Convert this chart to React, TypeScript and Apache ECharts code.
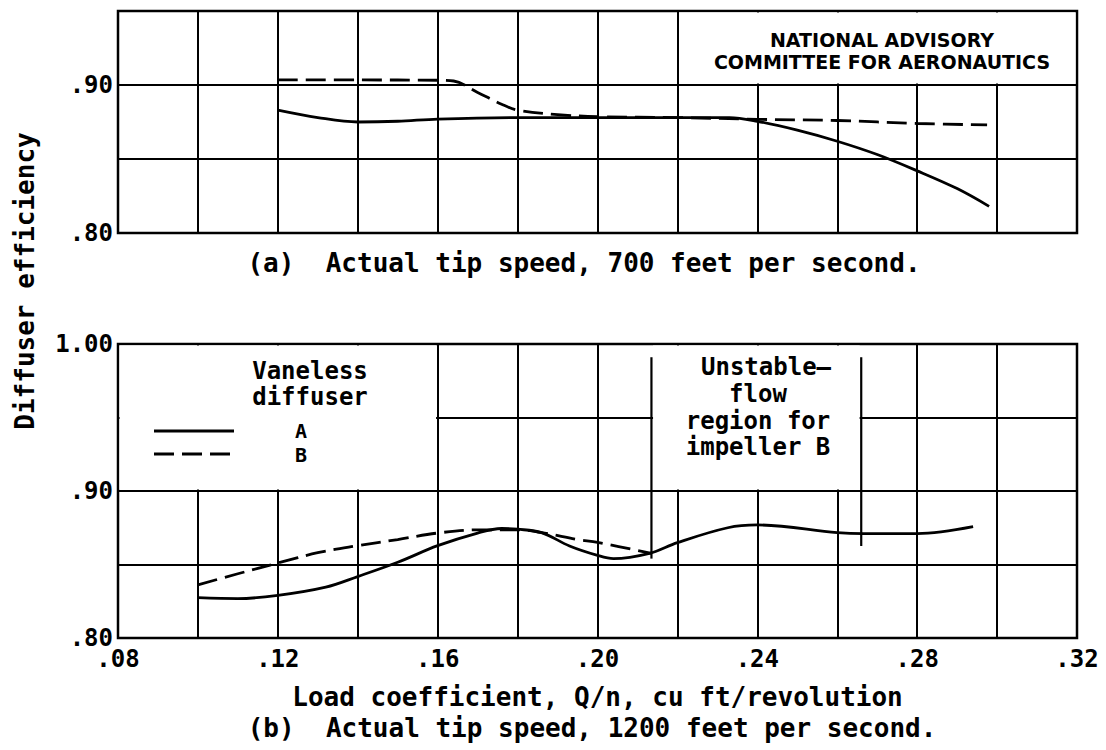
import React, { useEffect, useRef } from 'react';
import * as echarts from 'echarts';

// ---- tick labels ----
const X_TICK_LABELS = ['.08', '.12', '.16', '.20', '.24', '.28', '.32'];
const TOP_Y_TICK_LABELS = ['.80', '.90'];
const BOTTOM_Y_TICK_LABELS = ['.80', '.90', '1.00'];

// ---- (a) 700 ft/s ----
const TOP_A_X = [0.12, 0.13, 0.14, 0.15, 0.16, 0.18, 0.20, 0.22, 0.233, 0.24, 0.25, 0.26, 0.27, 0.28, 0.29, 0.298];
const TOP_A_Y = [0.883, 0.878, 0.875, 0.8755, 0.877, 0.878, 0.878, 0.878, 0.878, 0.8755, 0.8695, 0.862, 0.853, 0.842, 0.830, 0.818];
const TOP_B_X = [0.12, 0.14, 0.16, 0.164, 0.17, 0.176, 0.18, 0.19, 0.20, 0.22, 0.24, 0.26, 0.28, 0.2975];
const TOP_B_Y = [0.9034, 0.9034, 0.9032, 0.9027, 0.895, 0.887, 0.883, 0.880, 0.8786, 0.878, 0.8768, 0.876, 0.874, 0.873];

// ---- (b) 1200 ft/s ----
const BOT_A_X = [0.10, 0.11, 0.12, 0.132, 0.14, 0.15, 0.16, 0.17, 0.176, 0.18, 0.186, 0.193, 0.20, 0.204, 0.213, 0.22, 0.2326, 0.24, 0.26, 0.2665, 0.28, 0.294];
const BOT_A_Y = [0.8274, 0.8268, 0.829, 0.8346, 0.8418, 0.8515, 0.8628, 0.8714, 0.8745, 0.874, 0.8717, 0.8626, 0.8562, 0.854, 0.8576, 0.8649, 0.875, 0.8769, 0.8717, 0.871, 0.871, 0.8757];
const BOT_B_X = [0.10, 0.11, 0.12, 0.13, 0.14, 0.15, 0.16, 0.17, 0.18, 0.186, 0.195, 0.20, 0.2135];
const BOT_B_Y = [0.8362, 0.8437, 0.851, 0.858, 0.8628, 0.867, 0.8714, 0.8736, 0.8736, 0.8717, 0.867, 0.865, 0.8576];

// ---- unstable-flow region boundaries (impeller B) ----
const UNSTABLE_LEFT_X = [0.2135, 0.2135];
const UNSTABLE_LEFT_Y = [0.991, 0.854];
const UNSTABLE_RIGHT_X = [0.266, 0.266];
const UNSTABLE_RIGHT_Y = [0.991, 0.8626];

// ---- annotation boxes (data extents: x0, x1, y0, y1) ----
const NACA_BOX = [0.22, 0.32, 0.90, 0.95];
const LEGEND_BOX = [0.08, 0.16, 0.90, 1.00];
const UNSTABLE_BOX = [0.2135, 0.266, 0.90, 1.00];

// ---- legend entries ----
const LEGEND_NAMES = ['A', 'B'];

const FONT = "'DejaVu Sans Mono', monospace";
const FONT_CAPS = "'DejaVu Sans', sans-serif";
const DASH = [20, 8];

const zip = (xs: number[], ys: number[]) => xs.map((x, i) => [x, ys[i]]);
const fmtVal = (v: number) => {
  const k = Math.round(v * 100);
  return k >= 100 ? (k / 100).toFixed(2) : '.' + String(k).padStart(2, '0');
};
const pick = (list: string[]) => (v: number) => (list.includes(fmtVal(v)) ? fmtVal(v) : '');

export default function App() {
  const ref = useRef<HTMLDivElement>(null);
  useEffect(() => {
    if (!ref.current) return;
    const chart = echarts.init(ref.current, undefined, { renderer: 'svg' });

    const splitLine = { show: true, lineStyle: { color: '#000', width: 2 } };
    const gridCommon = { show: true, borderColor: '#000', borderWidth: 2.5, backgroundColor: 'transparent', left: 118, right: 29 };
    const xCommon = {
      type: 'value' as const, min: 0.08, max: 0.32, interval: 0.02,
      axisLine: { show: false }, axisTick: { show: false }, splitLine,
    };
    const yCommon = {
      type: 'value' as const, min: 0.8, interval: 0.05,
      axisLine: { show: false }, axisTick: { show: false }, splitLine,
    };
    const lineSeries = (name: string, xi: number, data: number[][], dashed: boolean) => ({
      name, type: 'line' as const, xAxisIndex: xi, yAxisIndex: xi, data,
      showSymbol: false, symbol: 'none', smooth: 0.35, z: 10,
      lineStyle: { color: '#000', width: 2.8, type: dashed ? DASH : 'solid' },
      itemStyle: { color: '#000' },
    });
    const boundary = (xi: number, data: number[][]) => ({
      name: 'boundary', type: 'line' as const, xAxisIndex: xi, yAxisIndex: xi, data,
      showSymbol: false, symbol: 'none', z: 10,
      lineStyle: { color: '#000', width: 2.2 },
    });

    chart.setOption({
      animation: false,
      backgroundColor: '#fff',
      textStyle: { fontFamily: FONT },
      grid: [
        { ...gridCommon, top: 11, height: 222 },
        { ...gridCommon, top: 344, height: 294 },
      ],
      xAxis: [
        { ...xCommon, gridIndex: 0, axisLabel: { show: false } },
        {
          ...xCommon, gridIndex: 1,
          axisLabel: { formatter: pick(X_TICK_LABELS), fontFamily: FONT, fontWeight: 'bold', fontSize: 24, color: '#000', margin: 9 },
          name: 'Load coefficient, Q/n, cu ft/revolution', nameLocation: 'middle', nameGap: 46,
          nameTextStyle: { fontFamily: FONT, fontWeight: 'bold', fontSize: 26, color: '#000' },
        },
      ],
      yAxis: [
        { ...yCommon, gridIndex: 0, max: 0.95, axisLabel: { formatter: pick(TOP_Y_TICK_LABELS), fontFamily: FONT, fontWeight: 'bold', fontSize: 24, color: '#000', margin: 5 } },
        { ...yCommon, gridIndex: 1, max: 1.0, axisLabel: { formatter: pick(BOTTOM_Y_TICK_LABELS), fontFamily: FONT, fontWeight: 'bold', fontSize: 24, color: '#000', margin: 5 } },
      ],
      series: [
        lineSeries(LEGEND_NAMES[0], 0, zip(TOP_A_X, TOP_A_Y), false),
        lineSeries(LEGEND_NAMES[1], 0, zip(TOP_B_X, TOP_B_Y), true),
        lineSeries(LEGEND_NAMES[0], 1, zip(BOT_A_X, BOT_A_Y), false),
        lineSeries(LEGEND_NAMES[1], 1, zip(BOT_B_X, BOT_B_Y), true),
        boundary(1, zip(UNSTABLE_LEFT_X, UNSTABLE_LEFT_Y)),
        boundary(1, zip(UNSTABLE_RIGHT_X, UNSTABLE_RIGHT_Y)),
      ],
    });

    const inset = 1.6;
    const cover = (gridIndex: number, box: number[]) => {
      const p0 = chart.convertToPixel({ gridIndex } as any, [box[0], box[3]]) as number[];
      const p1 = chart.convertToPixel({ gridIndex } as any, [box[1], box[2]]) as number[];
      return {
        type: 'rect', z: 5, silent: true,
        shape: { x: p0[0] + inset, y: p0[1] + inset, width: p1[0] - p0[0] - 2 * inset, height: p1[1] - p0[1] - 2 * inset },
        style: { fill: '#fff' },
      };
    };
    const txt = (text: string, x: number, y: number, size: number, extra: any = {}, family: string = FONT) => ({
      type: 'text', x, y, z: 20, silent: true, ...extra,
      style: { text, fill: '#000', font: `bold ${size}px ${family}`, align: 'center', verticalAlign: 'middle' },
    });
    const sample = (x1: number, x2: number, y: number, dashed: boolean) => ({
      type: 'line', z: 20, silent: true,
      shape: { x1, y1: y, x2, y2: y },
      style: { stroke: '#000', lineWidth: 2.8, lineDash: dashed ? DASH : null },
    });

    chart.setOption({
      graphic: [
        cover(0, NACA_BOX),
        cover(1, LEGEND_BOX),
        cover(1, UNSTABLE_BOX),
        txt('NATIONAL ADVISORY', 882, 40, 19, {}, FONT_CAPS),
        txt('COMMITTEE FOR AERONAUTICS', 882, 62, 19, {}, FONT_CAPS),
        txt('(a)  Actual tip speed, 700 feet per second.', 584, 263, 26),
        txt('(b)  Actual tip speed, 1200 feet per second.', 592, 728, 26),
        txt('Diffuser efficiency', 25, 281, 26, { rotation: Math.PI / 2 }),
        txt('Vaneless', 310, 371, 24),
        txt('diffuser', 310, 397, 24),
        sample(154, 234, 431, false),
        sample(154, 232, 454, true),
        txt(LEGEND_NAMES[0], 301, 431, 20),
        txt(LEGEND_NAMES[1], 301, 455, 20),
        txt('Unstable\u2013', 766, 367, 24),
        txt('flow', 758, 394, 24),
        txt('region for', 758, 421, 24),
        txt('impeller B', 758, 447, 24),
      ],
    });

    return () => chart.dispose();
  }, []);
  return <div ref={ref} style={{ position: 'absolute', left: 0, top: 0, width: 1106, height: 750, background: '#fff' }} />;
}
